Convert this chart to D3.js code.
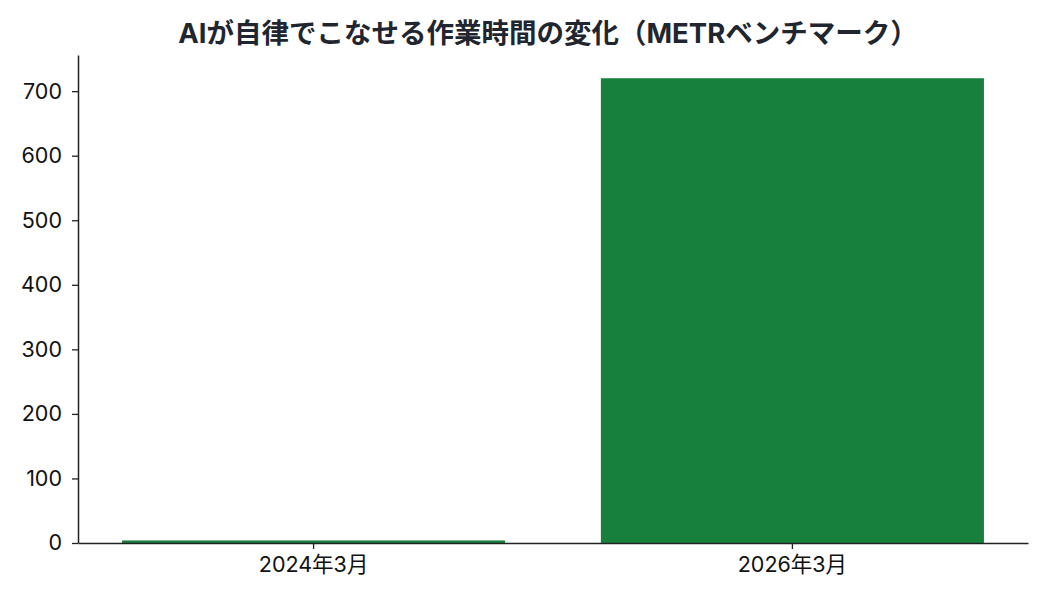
<!DOCTYPE html>
<html><head><meta charset="utf-8">
<script src="https://cdn.jsdelivr.net/npm/d3@7"></script>
<style>body{margin:0;background:#fff}svg{display:block}</style>
</head><body>
<svg id="chart" width="1050" height="600"></svg>
<script>
const titleText = "AIが自律でこなせる作業時間の変化（METRベンチマーク）";
const categories = ["2024年3月", "2026年3月"];
const values = [4, 720];
const yTicks = [0, 100, 200, 300, 400, 500, 600, 700];

const W = 1050, H = 600;
const m = {left: 78, right: 22, top: 55, bottom: 57};
const font = "Inter, 'Noto Sans CJK JP', sans-serif";
const svg = d3.select("#chart");

const x = d3.scaleBand().domain(categories).range([m.left, W - m.right])
  .paddingInner(0.2).paddingOuter(0.092);
const y = d3.scaleLinear().domain([0, d3.max(values) * 1.05]).range([H - m.bottom, m.top]);

svg.append("g").selectAll("rect").data(values).join("rect")
  .attr("x", (d, i) => x(categories[i]))
  .attr("width", x.bandwidth())
  .attr("y", d => y(d))
  .attr("height", d => y(0) - y(d))
  .attr("fill", "#18803d");

const yAxis = svg.append("g").attr("transform", `translate(${m.left},0)`)
  .call(d3.axisLeft(y).tickValues(yTicks).tickSize(6).tickPadding(10).tickSizeOuter(0));
const xAxis = svg.append("g").attr("transform", `translate(0,${H - m.bottom})`)
  .call(d3.axisBottom(x).tickSize(6).tickPadding(8).tickSizeOuter(0));

[yAxis, xAxis].forEach(a => {
  a.select(".domain").attr("stroke", "#222").attr("stroke-width", 1.5);
  a.selectAll(".tick line").attr("stroke", "#222").attr("stroke-width", 1.3);
  a.selectAll("text").attr("font-family", font).attr("font-size", 21.5).attr("fill", "#111");
});

svg.append("text").attr("x", 548).attr("y", 43)
  .attr("text-anchor", "middle").attr("font-family", font)
  .attr("font-weight", "bold").attr("font-size", 27.5).attr("fill", "#1f2630")
  .text(titleText);
</script>
</body></html>
